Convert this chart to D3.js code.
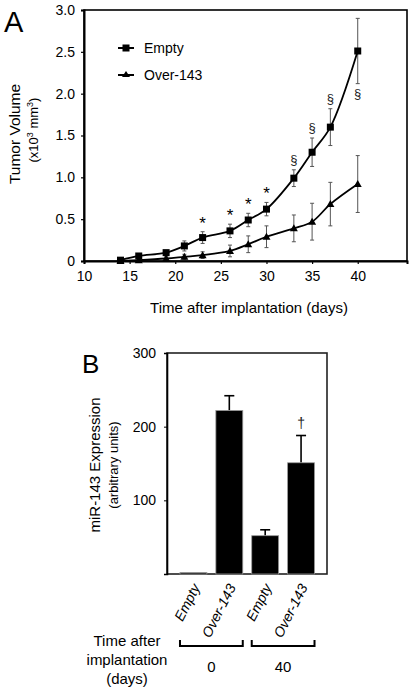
<!DOCTYPE html>
<html><head><meta charset="utf-8">
<script src="https://cdn.jsdelivr.net/npm/d3@7"></script>
<style>
html,body{margin:0;padding:0;background:#fff;}
svg text{font-family:"Liberation Sans",Arial,sans-serif;fill:#000;}
svg text.sym{font-family:"Liberation Sans",Arial,sans-serif;}
</style></head>
<body>
<svg id="c" width="411" height="691"></svg>
<script>
// ---- Panel A data ----
const days = [14,16,19,21,23,26,28,30,33,35,37,40];
const emptyVol = [0.01,0.06,0.10,0.18,0.28,0.36,0.49,0.62,0.99,1.30,1.60,2.51];
const emptyErr = [0.01,0.02,0.02,0.06,0.07,0.08,0.08,0.08,0.10,0.17,0.22,0.39];
const overVol  = [0.00,0.01,0.03,0.05,0.07,0.12,0.20,0.29,0.39,0.47,0.68,0.92];
const overErr  = [0.01,0.01,0.02,0.03,0.04,0.07,0.10,0.13,0.16,0.22,0.26,0.34];
const xTicksA = [10,15,20,25,30,35,40];
const yTicksA = [0,0.5,1.0,1.5,2.0,2.5,3.0];
const yTickLabelsA = ["0","0.5","1.0","1.5","2.0","2.5","3.0"];
const starDays = [23,26,28,30];
const sectionAboveDays = [33,35,37];
const sectionBelowDays = [40];
const seriesNames = ["Empty","Over-143"];

// ---- Panel B data ----
const barLabels = ["Empty","Over-143","Empty","Over-143"];
const barValues = [2,222,52,151];
const barErr = [0,20,8,37];
const groupLabels = ["0","40"];
const yTicksB = [100,200,300];
const daggerIndex = [3];

const svg = d3.select("#c");

// ================= Panel A =================
const xA = d3.scaleLinear().domain([10,45.4]).range([84,407]);
const yA = d3.scaleLinear().domain([0,3]).range([261,10]);

svg.append("text").attr("x",4).attr("y",32).attr("font-size",29).text("A");

svg.append("rect").attr("x",84).attr("y",10).attr("width",323).attr("height",251)
  .attr("fill","none").attr("stroke","#000").attr("stroke-width",1.6);

const axLeftA = svg.append("g").attr("transform","translate(84,0)")
  .call(d3.axisLeft(yA).tickValues(yTicksA).tickFormat((d,i)=>yTickLabelsA[i]).tickSize(3).tickPadding(6));
const axBotA = svg.append("g").attr("transform","translate(0,261)")
  .call(d3.axisBottom(xA).tickValues(xTicksA).tickFormat(d3.format("d")).tickSize(3).tickPadding(7));
[axLeftA,axBotA].forEach(g=>{
  g.select(".domain").attr("stroke-width",2);
  g.selectAll("text").attr("font-size",14).attr("font-family","Liberation Sans, Arial, sans-serif");
  g.selectAll("line").attr("stroke-width",1.2);
});

svg.append("text").attr("x",249).attr("y",313).attr("text-anchor","middle").attr("font-size",15)
  .text("Time after implantation (days)");
svg.append("text").attr("transform","translate(20,134) rotate(-90)").attr("text-anchor","middle")
  .attr("font-size",15.5).text("Tumor Volume");
const sub = svg.append("text").attr("transform","translate(38,130) rotate(-90)").attr("text-anchor","middle")
  .attr("font-size",13);
sub.append("tspan").text("(x10");
sub.append("tspan").attr("font-size",9).attr("dy",-5).text("3");
sub.append("tspan").attr("dy",5).text(" mm");
sub.append("tspan").attr("font-size",9).attr("dy",-5).text("3");
sub.append("tspan").attr("dy",5).text(")");

const line = d3.line().x(d=>xA(d[0])).y(d=>yA(d[1])).curve(d3.curveCatmullRom.alpha(0.5));

function drawSeries(vals, errs, marker){
  const pts = days.map((d,i)=>[d,vals[i],errs[i]]);
  const eg = svg.append("g").attr("stroke","#555").attr("stroke-width",1);
  pts.forEach(p=>{
    const x = xA(p[0]);
    const yt = yA(p[1]+p[2]), yb = yA(Math.max(0,p[1]-p[2]));
    eg.append("line").attr("x1",x).attr("x2",x).attr("y1",yt).attr("y2",yb);
    eg.append("line").attr("x1",x-2).attr("x2",x+2).attr("y1",yt).attr("y2",yt);
    eg.append("line").attr("x1",x-2).attr("x2",x+2).attr("y1",yb).attr("y2",yb);
  });
  svg.append("path").datum(pts).attr("d",line).attr("fill","none").attr("stroke","#000").attr("stroke-width",1.8);
  const mg = svg.append("g");
  pts.forEach(p=>{
    const x = xA(p[0]), y = yA(p[1]);
    if(marker==="square"){
      mg.append("rect").attr("x",x-3.5).attr("y",y-3.5).attr("width",7).attr("height",7).attr("fill","#000");
    } else {
      mg.append("path").attr("d",`M${x-4},${y+3}L${x+4},${y+3}L${x},${y-4}Z`).attr("fill","#000");
    }
  });
}
drawSeries(overVol, overErr, "triangle");
drawSeries(emptyVol, emptyErr, "square");

starDays.forEach(d=>{
  const i = days.indexOf(d);
  svg.append("text").attr("x",xA(d)).attr("y",yA(emptyVol[i]+emptyErr[i])-3).attr("text-anchor","middle")
    .attr("font-size",17).text("*");
});
function sym(x, y, size, ch){
  svg.append("text").attr("class","sym")
    .attr("transform",`translate(${x},${y}) rotate(0.01)`)
    .attr("text-anchor","middle").attr("font-size",size).style("fill","#222").text(ch);
}
sectionAboveDays.forEach(d=>{
  const i = days.indexOf(d);
  sym(xA(d), yA(emptyVol[i]+emptyErr[i])-6, 13, "§");
});
sectionBelowDays.forEach(d=>{
  const i = days.indexOf(d);
  sym(xA(d), yA(emptyVol[i]-emptyErr[i])+14, 13, "§");
});

const lg = svg.append("g");
seriesNames.forEach((n,i)=>{
  const y = 48 + i*27;
  lg.append("line").attr("x1",118).attr("x2",134).attr("y1",y).attr("y2",y).attr("stroke","#000").attr("stroke-width",2);
  if(i===0) lg.append("rect").attr("x",122.5).attr("y",y-3.5).attr("width",7).attr("height",7);
  else lg.append("path").attr("d",`M${122},${y+2}L${130},${y+2}L${126},${y-4}Z`);
  lg.append("text").attr("x",144).attr("y",y+5).attr("font-size",14).text(n);
});

// ================= Panel B =================
const xB = d3.scaleBand().domain(d3.range(barLabels.length)).range([175.5,319]).paddingInner(0.25).paddingOuter(0.125);
const yB = d3.scaleLinear().domain([0,300]).range([574,353]);

svg.append("text").attr("x",82).attr("y",373).attr("font-size",26).text("B");

svg.append("rect").attr("x",167).attr("y",353).attr("width",160).attr("height",221)
  .attr("fill","none").attr("stroke","#222").attr("stroke-width",1.6);
const axLeftB = svg.append("g").attr("transform","translate(167,0)")
  .call(d3.axisLeft(yB).tickValues(yTicksB).tickSize(3).tickPadding(8));
axLeftB.select(".domain").attr("stroke-width",1.6);
axLeftB.selectAll("text").attr("font-size",14).attr("font-family","Liberation Sans, Arial, sans-serif");

svg.append("text").attr("transform","translate(100,465) rotate(-90)").attr("text-anchor","middle")
  .attr("font-size",15).text("miR-143 Expression");
svg.append("text").attr("transform","translate(118,465) rotate(-90)").attr("text-anchor","middle")
  .attr("font-size",13).text("(arbitrary units)");

barValues.forEach((v,i)=>{
  if(barErr[i]<=0) return;
  const cx = xB(i)+xB.bandwidth()/2;
  svg.append("line").attr("x1",cx).attr("x2",cx).attr("y1",yB(v)).attr("y2",yB(v+barErr[i])).attr("stroke","#000").attr("stroke-width",1.6);
  svg.append("line").attr("x1",cx-5).attr("x2",cx+5).attr("y1",yB(v+barErr[i])).attr("y2",yB(v+barErr[i])).attr("stroke","#000").attr("stroke-width",1.6);
});
svg.append("g").selectAll("rect").data(barValues).join("rect")
  .attr("x",(d,i)=>xB(i)).attr("width",xB.bandwidth())
  .attr("y",d=>yB(d)).attr("height",d=>yB(0)-yB(d))
  .attr("fill","#000").attr("stroke","#999").attr("stroke-width",0.8);

daggerIndex.forEach(i=>{
  const cx = xB(i)+xB.bandwidth()/2;
  sym(cx, yB(barValues[i]+barErr[i])-8, 14, "†");
});

barLabels.forEach((t,i)=>{
  const cx = xB(i)+xB.bandwidth()/2;
  svg.append("text").attr("transform",`translate(${cx+7},${587}) rotate(-63)`)
    .attr("text-anchor","end").attr("font-size",14).attr("font-style","italic").text(t);
});

groupLabels.forEach((g,k)=>{
  const x0 = xB(2*k), x1 = xB(2*k+1)+xB.bandwidth();
  svg.append("path").attr("d",`M${x0},640V646H${x1}V640`).attr("fill","none").attr("stroke","#000").attr("stroke-width",2);
  svg.append("text").attr("x",(x0+x1)/2).attr("y",672).attr("text-anchor","middle").attr("font-size",15).text(g);
});
["Time after","implantation","(days)"].forEach((t,i)=>{
  svg.append("text").attr("x",127).attr("y",646+i*19).attr("text-anchor","middle").attr("font-size",15).text(t);
});
</script>
</body></html>
